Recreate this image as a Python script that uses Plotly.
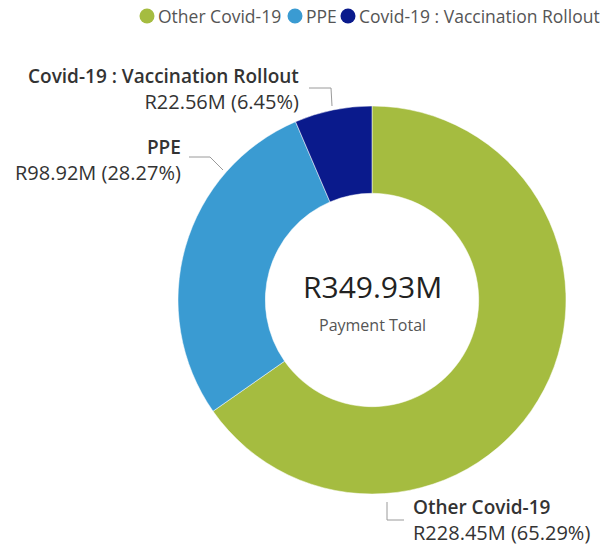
import plotly.graph_objects as go

categories = ["Other Covid-19", "PPE", "Covid-19 : Vaccination Rollout"]
values_m = [228.45, 98.92, 22.56]
percent_shown = [65.29, 28.27, 6.45]
colors = ["#A5BC40", "#3A9BD2", "#0A1A8C"]
legend_order = [0, 1, 2]
total_label = "Payment Total"

W, H = 601, 547
total = sum(values_m)

def px(x):
    return x / W

def py(y):
    return 1 - y / H

CX, CY, R = 372, 300, 194

fig = go.Figure()
fig.add_trace(go.Pie(
    labels=categories, values=values_m, hole=0.55, sort=False,
    direction="clockwise", rotation=0,
    marker=dict(colors=colors, line=dict(color="white", width=0.5)),
    textinfo="none", hoverinfo="label+value+percent", showlegend=False,
    domain=dict(x=[px(CX - R), px(CX + R)], y=[py(CY + R), py(CY - R)]),
))

font = "Open Sans, Noto Sans, sans-serif"
dark = "#333333"

def amt(v):
    return f"R{v:.2f}M"

def label(x, y, text, anchor, size=20, color=dark, weight=400):
    return dict(x=px(x), y=py(y), xref="paper", yref="paper", text=text, xanchor=anchor,
                yanchor="middle", showarrow=False, align=anchor if anchor != "center" else "center",
                font=dict(size=size, color=color, family=font, weight=weight))

def two_line(i):
    return (f"<span style='font-size:19px;font-weight:600'>{categories[i]}</span><br>"
            f"{amt(values_m[i])} ({percent_shown[i]:.2f}%)")

ann = [
    label(301, 89, two_line(2), "right"),
    label(183, 160, two_line(1), "right"),
    label(411, 520, two_line(0), "left"),
    label(CX, 286, amt(total), "center", size=30, color="#222222"),
    label(CX, 325, total_label, "center", size=16, color="#555555"),
]

def path(pts):
    return "M " + " L ".join(f"{px(x)},{py(y)}" for x, y in pts)

line_style = dict(color="#9a9a9a", width=1)
shapes = [
    dict(type="path", xref="paper", yref="paper", path=path([(309, 88), (331, 88), (332, 106)]), line=line_style),
    dict(type="path", xref="paper", yref="paper", path=path([(189, 157), (210, 157), (223, 170)]), line=line_style),
    dict(type="path", xref="paper", yref="paper", path=path([(387, 502), (387, 520), (404, 520)]), line=line_style),
]

# manual legend (circle swatch + text)
legend_x = [147, 295, 348]
legend_y = 16
rad = 7.5
for i, lx in zip(legend_order, legend_x):
    shapes.append(dict(type="circle", xref="paper", yref="paper",
                       x0=px(lx - rad), x1=px(lx + rad), y0=py(legend_y + rad), y1=py(legend_y - rad),
                       fillcolor=colors[i], line=dict(width=0)))
    ann.append(label(lx + rad + 1, legend_y, categories[i], "left", size=17.5, color="#555555"))

fig.update_layout(
    width=W, height=H, margin=dict(l=0, r=0, t=0, b=0),
    paper_bgcolor="white", plot_bgcolor="white",
    showlegend=False,
    annotations=ann, shapes=shapes,
)

fig.write_html("out.html", config={"displayModeBar": False},
               post_script="document.body.style.margin='0px';")
